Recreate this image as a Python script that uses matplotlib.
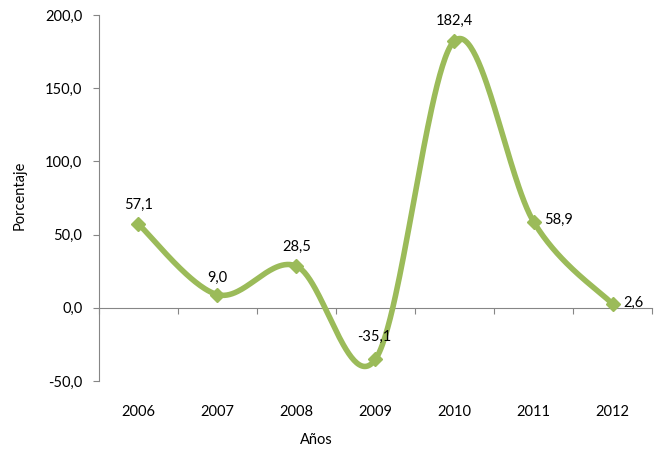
import matplotlib
matplotlib.use("Agg")
import matplotlib.pyplot as plt
import matplotlib.transforms as mtransforms
import numpy as np

plt.rcParams['font.family'] = ['Lato', 'DejaVu Sans']

anios = ['2006', '2007', '2008', '2009', '2010', '2011', '2012']
porcentaje = [57.1, 9.0, 28.5, -35.1, 182.4, 58.9, 2.6]
etiquetas = ['57,1', '9,0', '28,5', '-35,1', '182,4', '58,9', '2,6']
yticks = [-50, 0, 50, 100, 150, 200]

verde = '#9BBB59'
gris = '#868686'


def suavizar(x, y, n=60):
    # curva tipo Excel (Catmull-Rom en forma Bezier)
    px, py = [], []
    m = len(x)
    for i in range(m - 1):
        i0 = max(i - 1, 0)
        i3 = min(i + 2, m - 1)
        p0 = np.array([x[i0], y[i0]])
        p1 = np.array([x[i], y[i]])
        p2 = np.array([x[i + 1], y[i + 1]])
        p3 = np.array([x[i3], y[i3]])
        c1 = p1 + (p2 - p0) / 6
        c2 = p2 - (p3 - p1) / 6
        t = np.linspace(0, 1, n)[:, None]
        b = ((1 - t) ** 3) * p1 + 3 * ((1 - t) ** 2) * t * c1 + 3 * (1 - t) * t ** 2 * c2 + t ** 3 * p2
        px.extend(b[:, 0])
        py.extend(b[:, 1])
    return np.array(px), np.array(py)


x = np.arange(len(anios))
sx, sy = suavizar(x, porcentaje)

fig = plt.figure(figsize=(6.66, 4.49), dpi=100)
ax = fig.add_axes([0.1486, 0.1514, 0.8304, 0.8152])

ax.plot(sx, sy, color=verde, lw=4, solid_capstyle='round', zorder=3)
ax.plot(x, porcentaje, ls='none', marker='D', ms=7.5, color=verde, zorder=4)

ax.set_xlim(-0.5, len(anios) - 0.5)
ax.set_ylim(-50, 200)
ax.set_yticks(yticks)
ax.set_yticklabels([f'{v:.1f}'.replace('.', ',') for v in yticks], fontsize=10.5)

for s in ['top', 'right']:
    ax.spines[s].set_visible(False)
ax.spines['left'].set_color(gris)
ax.spines['bottom'].set_color(gris)
ax.spines['bottom'].set_position(('data', 0))
ax.set_xticks(np.arange(len(anios) + 1) - 0.5)
ax.tick_params(axis='x', labelbottom=False, length=4, color=gris, direction='out')
ax.tick_params(axis='y', length=4, color=gris, pad=8)

trans = mtransforms.blended_transform_factory(ax.transData, ax.transAxes)
for xi, a in zip(x, anios):
    ax.text(xi, -0.085, a, transform=trans, ha='center', va='center', fontsize=10.5)

offsets = [(0, 14, 'center'), (0, 12, 'center'), (0, 14, 'center'), (-1, 16, 'center'),
           (0, 14, 'center'), (8, 1, 'left'), (8, 1, 'left')]
for xi, yi, lab, (dx, dy, ha) in zip(x, porcentaje, etiquetas, offsets):
    ax.annotate(lab, (xi, yi), xytext=(dx, dy), textcoords='offset points',
                ha=ha, va='center', fontsize=10.5, zorder=5)

fig.text(0.475, 0.02, 'Años', ha='center', va='center', fontsize=10.5)
fig.text(0.03, 0.565, 'Porcentaje', rotation=90, ha='center', va='center', fontsize=10.5)

fig.savefig('out.png', dpi=100)
